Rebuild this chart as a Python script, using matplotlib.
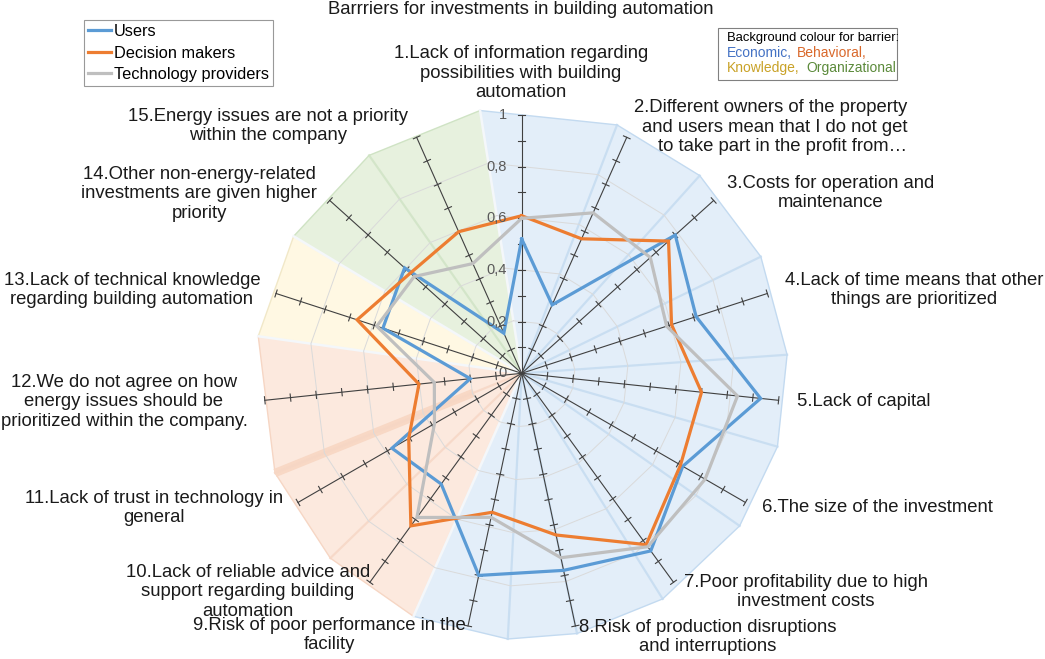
import numpy as np
import matplotlib.pyplot as plt
from matplotlib.lines import Line2D
from matplotlib.patches import Rectangle

plt.rcParams['font.family'] = ['Liberation Sans', 'DejaVu Sans']

W, H = 1045, 659

barriers = [
    "1.Lack of information regarding\npossibilities with building\nautomation",
    "2.Different owners of the property\nand users mean that I do not get\nto take part in the profit from…",
    "3.Costs for operation and\nmaintenance",
    "4.Lack of time means that other\nthings are prioritized",
    "5.Lack of capital",
    "6.The size of the investment",
    "7.Poor profitability due to high\ninvestment costs",
    "8.Risk of production disruptions\nand interruptions",
    "9.Risk of poor performance in the\nfacility",
    "10.Lack of reliable advice and\nsupport regarding building\nautomation",
    "11.Lack of trust in technology in\ngeneral",
    "12.We do not agree on how\nenergy issues should be\nprioritized within the company.",
    "13.Lack of technical knowledge\nregarding building automation",
    "14.Other non-energy-related\ninvestments are given higher\npriority",
    "15.Energy issues are not a priority\nwithin the company",
]
users = [0.52, 0.29, 0.80, 0.71, 0.93, 0.72, 0.85, 0.78, 0.80, 0.53, 0.58, 0.20, 0.565, 0.61, 0.17]
decision_makers = [0.61, 0.57, 0.765, 0.61, 0.70, 0.71, 0.82, 0.64, 0.55, 0.73, 0.505, 0.40, 0.67, 0.58, 0.60]
tech_providers = [0.60, 0.68, 0.67, 0.59, 0.84, 0.82, 0.83, 0.73, 0.57, 0.69, 0.39, 0.34, 0.59, 0.56, 0.465]

series_names = ["Users", "Decision makers", "Technology providers"]
series_colors = ["#5b9bd5", "#ed7d31", "#bfbfbf"]

radial_ticks = [0, 0.2, 0.4, 0.6, 0.8, 1.0]
radial_labels = ["0", "0,2", "0,4", "0,6", "0,8", "1"]

# background barrier groups (degrees clockwise from top)
region_names = ["Economic", "Behavioral", "Knowledge", "Organizational"]
region_start = [-9, 204, 278, 301]
region_end = [204, 278, 301, 351]
region_fill = ["#e3eef9", "#fce9de", "#fff8e3", "#e7f1de"]
region_line = ["#c3daf0", "#f6d6c4", "#f1e8c8", "#cfe3c4"]
region_text = ["#4472c4", "#d9682b", "#c9a227", "#5b8a3a"]
bg_angles = [21, 42, 64, 86, 106, 125, 148, 168, 183, 226, 248, 325]

# label layout (pixel centre of each text block, alignment)
label_pos = [(521, 73, 'center'), (907, 127, 'right'), (831, 193, 'center'),
             (914, 290, 'center'), (797, 401, 'left'), (762, 508, 'left'),
             (806, 592, 'center'), (708, 637, 'center'), (329, 635, 'center'),
             (248, 592, 'center'), (154, 508, 'center'), (124, 402, 'center'),
             (132, 290, 'center'), (199, 194, 'center'), (268, 126, 'center')]

n = len(barriers)
angles = np.arange(n) * 360.0 / n

fig = plt.figure(figsize=(W / 100, H / 100), dpi=100)
cx, cy, R1 = 521.7, 373.3, 258.3
rmax = 1.1
Rp = R1 * rmax
ax = fig.add_axes([(cx - Rp) / W, (H - cy - Rp) / H, 2 * Rp / W, 2 * Rp / H], projection='polar')
ax.set_theta_zero_location('N')
ax.set_theta_direction(-1)
ax.set_ylim(0, rmax)
ax.axis('off')

rad = np.deg2rad
R_fill = 1.03

# background fills
all_bg = sorted(bg_angles + region_start)
for s, e, fc, lc in zip(region_start, region_end, region_fill, region_line):
    inner = [a for a in all_bg if s < a < e]
    th = [s] + inner + [e]
    ax.fill(rad([s] + th), [0] + [R_fill] * len(th), color=fc, zorder=1, lw=0)
    ax.plot(rad(th), [R_fill] * len(th), color=lc, lw=1.0, zorder=1.2)
    for a in inner:
        ax.plot(rad([a, a]), [0, R_fill], color=lc, lw=1.6, alpha=0.8, zorder=1.3)
for a in region_start:
    ax.plot(rad([a, a]), [0, R_fill], color="#f4f7fa", lw=1.8, zorder=1.3)
ax.plot(rad([248, 248]), [0.2, R_fill], color="#f8d8c5", lw=6, solid_capstyle='butt', zorder=1.25)

# background grid rings
ring_th = all_bg + [all_bg[0] + 360]
for lev in [0.2, 0.4, 0.6, 0.8]:
    ax.plot(rad(ring_th), [lev * R_fill] * len(ring_th), color="#dadada", lw=0.7, zorder=1.4)

# black spokes with ticks
h = 3.6 / R1
for a in angles:
    t = rad(a)
    ax.plot([t, t], [0, 1], color="#404040", lw=0.8, zorder=3)
    for r in np.arange(1, 11) / 10:
        px, py = r * np.sin(t), r * np.cos(t)
        qx, qy = np.cos(t), -np.sin(t)
        xs = np.array([px - h * qx, px + h * qx])
        ys = np.array([py - h * qy, py + h * qy])
        ax.plot(np.arctan2(xs, ys), np.hypot(xs, ys), color="#404040", lw=0.8, zorder=3)

for r, lab in zip(radial_ticks, radial_labels):
    ax.annotate(lab, xy=(0, r), xytext=(-10.5, 0), textcoords='offset points',
                ha='right', va='center', fontsize=10.5, color="#595959", zorder=5)

# data
th_closed = rad(np.append(angles, angles[0]))
handles = []
for vals, name, col in zip([users, decision_makers, tech_providers], series_names, series_colors):
    v = list(vals) + [vals[0]]
    ax.plot(th_closed, v, color=col, lw=2.3, zorder=4, solid_joinstyle='miter')
    handles.append(Line2D([], [], color=col, lw=2.3))

# labels
for text, (x, y, ha) in zip(barriers, label_pos):
    fig.text(x / W, 1 - y / H, text, ha=ha, va='center', ma=ha, fontsize=13.3,
             linespacing=1.22, color="#1a1a1a")

fig.text(521 / W, 1 - 10 / H, "Barrriers for investments in building automation",
         ha='center', va='center', fontsize=13.3, color="#1a1a1a")

leg = fig.legend(handles, series_names, loc='upper left', bbox_to_anchor=(84 / W, 1 - 20 / H),
                 fontsize=11.8, frameon=True, fancybox=False, edgecolor="#808080",
                 handlelength=1.4, handletextpad=0.15, borderpad=0.25, labelspacing=0.4,
                 borderaxespad=0)
leg.get_frame().set_linewidth(0.8)

fig.patches.append(Rectangle((718 / W, 1 - 80 / H), 179 / W, 52 / H, transform=fig.transFigure,
                             fill=False, edgecolor="#808080", lw=0.8))
fig.text(727 / W, 1 - 38 / H, "Background colour for barrier:", fontsize=9.4, va='center', ha='left')
word_pos = [(727, 53), (797, 53), (727, 68), (806, 68)]
words = ["Economic,", "Behavioral,", "Knowledge,", "Organizational"]
for (x, y), w, c in zip(word_pos, words, region_text):
    fig.text(x / W, 1 - y / H, w, fontsize=10, color=c, va='center', ha='left')

fig.savefig("out.png", dpi=100)
